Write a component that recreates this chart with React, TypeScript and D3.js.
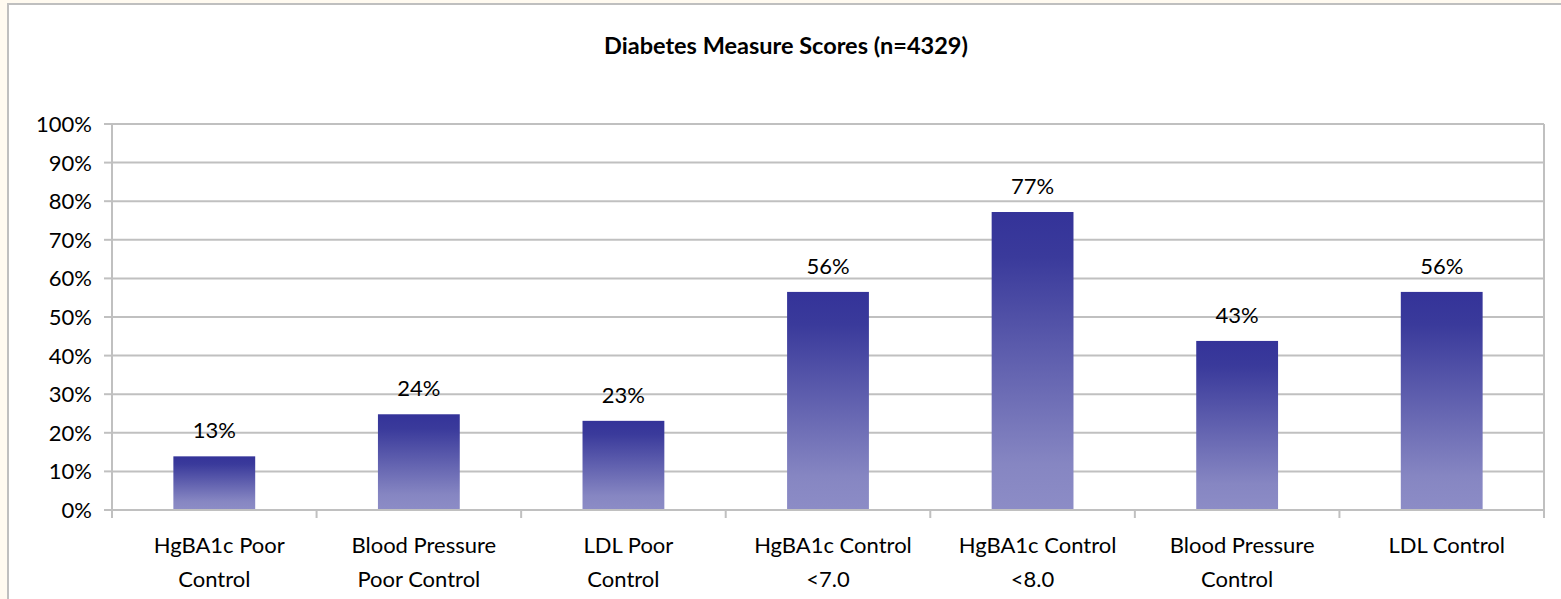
import React from "react";
import * as d3 from "d3";

// chart data
const categories: string[][] = [
  ["HgBA1c Poor", "Control"],
  ["Blood Pressure", "Poor Control"],
  ["LDL Poor", "Control"],
  ["HgBA1c Control", "<7.0"],
  ["HgBA1c Control", "<8.0"],
  ["Blood Pressure", "Control"],
  ["LDL Control"],
];
const scores = [0.139, 0.248, 0.231, 0.565, 0.772, 0.438, 0.565];
const scoreLabels = ["13%", "24%", "23%", "56%", "77%", "43%", "56%"];
const yTicks = [0, 0.1, 0.2, 0.3, 0.4, 0.5, 0.6, 0.7, 0.8, 0.9, 1];

const title = "Diabetes Measure Scores (n=4329)";

const W = 1561;
const H = 599;
const plot = { left: 112, right: 1544, top: 124, bottom: 510 };
const grid = "#C0C0C0";
const font = "Lato, 'Open Sans', sans-serif";

export default function App() {
  const x = d3
    .scaleBand<number>()
    .domain(d3.range(categories.length))
    .range([plot.left, plot.right])
    .paddingInner(0.6)
    .paddingOuter(0.3);
  const step = x.step();
  const y = d3.scaleLinear().domain([0, 1]).range([plot.bottom, plot.top]);
  const pct = d3.format(".0%");

  return (
    <svg
      width={W}
      height={H}
      style={{ position: "absolute", left: 0, top: 0 }}
      fontFamily={font}
    >
      <defs>
        <linearGradient id="barFill" x1="0" y1="0" x2="0" y2="1">
          <stop offset="0" stopColor="#343399" />
          <stop offset="0.15" stopColor="#3a3a9b" />
          <stop offset="0.85" stopColor="#8686c2" />
          <stop offset="1" stopColor="#8c8cc6" />
        </linearGradient>
      </defs>

      {/* faint page background outside the chart frame */}
      <rect x={0} y={0} width={W} height={H} fill="#fffaf0" />
      <rect x={8} y={4} width={W} height={H} fill="#ffffff" stroke="#BFBFBF" strokeWidth={2} />

      <text
        x={786}
        y={54}
        textAnchor="middle"
        fontWeight="bold"
        fontSize={23.5}
        fill="#000"
      >
        {title}
      </text>

      {/* gridlines + y ticks */}
      {yTicks.map((t) => (
        <g key={t}>
          <line x1={plot.left} x2={plot.right} y1={y(t)} y2={y(t)} stroke={grid} strokeWidth={2} />
          <line x1={plot.left - 8} x2={plot.left} y1={y(t)} y2={y(t)} stroke={grid} strokeWidth={2} />
          <text
            x={92}
            y={y(t)}
            dy="0.36em"
            textAnchor="end"
            fontSize={22}
            fill="#000"
          >
            {pct(t)}
          </text>
        </g>
      ))}
      <line x1={plot.left} x2={plot.left} y1={plot.top} y2={plot.bottom} stroke={grid} strokeWidth={2} />
      <line x1={plot.right} x2={plot.right} y1={plot.top} y2={plot.bottom + 8} stroke={grid} strokeWidth={2} />

      {/* category ticks */}
      {d3.range(categories.length + 1).map((i) => (
        <line
          key={i}
          x1={plot.left + i * step}
          x2={plot.left + i * step}
          y1={plot.bottom}
          y2={plot.bottom + 8}
          stroke={grid}
          strokeWidth={2}
        />
      ))}

      {/* bars */}
      {scores.map((v, i) => (
        <g key={i}>
          <rect
            x={x(i)}
            y={y(v)}
            width={x.bandwidth()}
            height={y(0) - y(v) - 1}
            fill="url(#barFill)"
          />
          <text
            x={(x(i) as number) + x.bandwidth() / 2}
            y={y(v) - 18}
            textAnchor="middle"
            fontSize={22}
            fill="#000"
          >
            {scoreLabels[i]}
          </text>
        </g>
      ))}

      {/* category labels */}
      {categories.map((lines, i) => (
        <text
          key={i}
          x={(x(i) as number) + x.bandwidth() / 2}
          y={553}
          textAnchor="middle"
          fontSize={22}
          fill="#000"
        >
          {lines.map((l, j) => (
            <tspan
              key={j}
              x={(x(i) as number) + x.bandwidth() / 2 + (j === 0 ? 5 : 0)}
              dy={j === 0 ? 0 : 34}
            >
              {l}
            </tspan>
          ))}
        </text>
      ))}
    </svg>
  );
}
